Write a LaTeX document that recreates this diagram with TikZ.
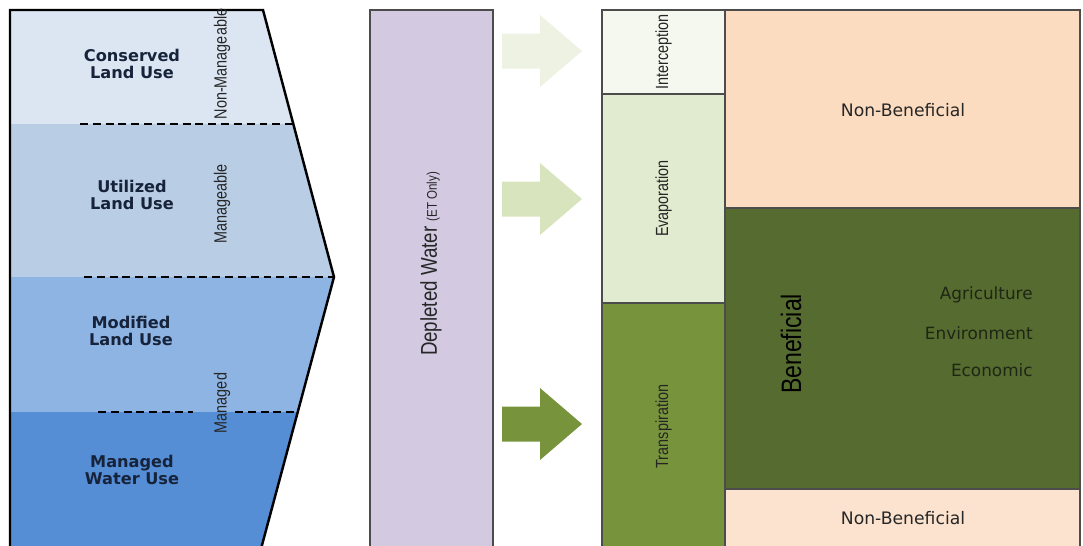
\documentclass[tikz,border=0pt]{standalone}
\usepackage{fontspec}
\setmainfont{DejaVu Sans}
\newfontfamily\narrowfont{Liberation Sans}[FakeStretch=0.82]
\usepackage{xcolor}
\usetikzlibrary{fit}
\definecolor{bandcons}{HTML}{DCE6F2}
\definecolor{bandutil}{HTML}{B9CDE5}
\definecolor{bandmodi}{HTML}{8EB4E3}
\definecolor{bandmngd}{HTML}{558ED5}
\definecolor{navytext}{HTML}{17233A}
\definecolor{lavender}{HTML}{D3CAE2}
\definecolor{arrowpale}{HTML}{EDF2E2}
\definecolor{arrowlight}{HTML}{D7E4BD}
\definecolor{olivemid}{HTML}{77933C}
\definecolor{olivedark}{HTML}{556B2F}
\definecolor{icptfill}{HTML}{F5F8EE}
\definecolor{evapfill}{HTML}{E0EBCF}
\definecolor{peachtop}{HTML}{FCDCC0}
\definecolor{peachbot}{HTML}{FCE3CF}
\definecolor{usetext}{HTML}{1E2614}

\begin{document}
\begin{tikzpicture}[
  x=0.02cm, y=-0.02cm,
  box/.style={
    rectangle, draw=black!70, line width=0.8pt, inner sep=0pt
  },
  vlab/.style={
    rotate=90, font=\narrowfont\fontsize{10}{12}\selectfont,
    text=black!85, inner sep=1pt
  },
  landlab/.style={
    font=\bfseries\fontsize{9.2}{9.6}\selectfont, text=navytext,
    align=center, inner sep=1pt
  },
  widelab/.style={
    font=\fontsize{9.8}{12}\selectfont, text=black!85
  },
  uselab/.style={
    font=\fontsize{9.6}{12}\selectfont, text=usetext,
    anchor=east, inner sep=0pt
  },
  divider/.style={line width=1pt, dash pattern=on 4.5pt off 2.8pt}
]
\useasboundingbox (0,0) rectangle (1083,545);

% left: land and water use bands
\begin{scope}
  \clip (10,10) -- (263,10) -- (334,277) -- (260.7,550) -- (10,550) -- cycle;
  \fill[bandcons] (0,0)   rectangle (340,124);
  \fill[bandutil] (0,124) rectangle (340,277);
  \fill[bandmodi] (0,277) rectangle (340,412);
  \fill[bandmngd] (0,412) rectangle (340,550);
\end{scope}
\draw[line width=1.4pt, line join=miter]
  (10,550) -- (10,10) -- (263,10) -- (334,277) -- (260.7,550);
\draw[divider] (80,124) -- (293,124);
\draw[divider] (84,277) -- (334,277);
\draw[divider] (98,412) -- (193,412);
\draw[divider] (235,412) -- (297,412);

\node[landlab] (cons) at (132,64)  {Conserved\\Land Use};
\node[landlab] (util) at (132,195) {Utilized\\Land Use};
\node[landlab] (modi) at (131,331) {Modified\\Land Use};
\node[landlab] (mngd) at (132,470) {Managed\\Water Use};
\node[vlab] (nonman)  at (222,64)  {Non-Manageable};
\node[vlab] (manable) at (222,204) {Manageable};
\node[vlab] (managed) at (222,403) {Managed};

% middle: depleted water
\node[box, fill=lavender, fit={(370,10) (493,550)}] (depl) {};
\node[rotate=90, text=black!85, inner sep=1pt] (depl-t) at (431,264)
  {\narrowfont\fontsize{13}{15}\selectfont Depleted Water
   {\fontsize{8}{10}\selectfont (ET Only)}};

% block arrows
\foreach \yc/\col in {51/arrowpale, 199/arrowlight, 424/olivemid}
  \fill[\col] (502,\yc-17.5) -- (540,\yc-17.5) -- (540,\yc-36) -- (582,\yc)
    -- (540,\yc+36) -- (540,\yc+17.5) -- (502,\yc+17.5) -- cycle;

% right: ET components
\node[box, fill=icptfill,  fit={(602,10) (725,94)}]   (icpt)  {};
\node[box, fill=evapfill,  fit={(602,94) (725,303)}]  (evap)  {};
\node[box, fill=olivemid,  fit={(602,303) (725,550)}] (trans) {};
\node[vlab] (icpt-t)  at (icpt)  {Interception};
\node[vlab] (evap-t)  at (evap)  {Evaporation};
\node[vlab] (trans-t) at (trans) {Transpiration};

\node[box, fill=peachtop,  fit={(725,10) (1080,208)}]  (nbtop) {};
\node[box, fill=olivedark, fit={(725,208) (1080,489)}] (benef) {};
\node[box, fill=peachbot,  fit={(725,489) (1080,550)}] (nbbot) {};
\node[widelab] (nbtop-t) at (903,110) {Non-Beneficial};
\node[widelab] (nbbot-t) at (903,518) {Non-Beneficial};
\node[vlab, font=\narrowfont\fontsize{16}{18}\selectfont, text=black]
  (benef-t) at (791,344) {Beneficial};
\node[uselab] (agri) at (1033,295) {Agriculture};
\node[uselab] (envi) at (1033,333) {Environment};
\node[uselab] (econ) at (1033,370) {Economic};
\end{tikzpicture}
\end{document}
